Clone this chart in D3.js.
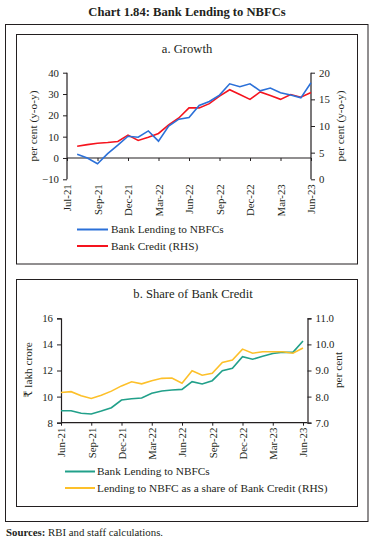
<!DOCTYPE html>
<html>
<head>
<meta charset="utf-8">
<script src="https://cdn.jsdelivr.net/npm/d3@7"></script>
<style>
  body { margin: 0; background: #fff; }
  svg text { font-family: "Liberation Serif", "DejaVu Serif", serif; fill: #231f20; }
</style>
</head>
<body>
<div id="chart"></div>
<script>
// ---- data ----
// months on the shared axis (Jun-21 .. Jun-23)
const months = ["Jun-21","Jul-21","Aug-21","Sep-21","Oct-21","Nov-21","Dec-21","Jan-22","Feb-22","Mar-22","Apr-22","May-22",
  "Jun-22","Jul-22","Aug-22","Sep-22","Oct-22","Nov-22","Dec-22","Jan-23","Feb-23","Mar-23","Apr-23","May-23","Jun-23"];

// panel a: growth, per cent y-o-y (from Jul-21)
const growthMonths = months.slice(1);
const lendingGrowth = [1.7, 0.0, -2.7, 2.0, 6.0, 10.2, 9.7, 12.7, 7.9, 15.0, 18.2, 19.0,
  24.6, 26.5, 29.5, 34.8, 33.4, 34.8, 31.5, 32.8, 30.6, 29.5, 28.2, 35.3];
const creditGrowth = [6.2, 6.5, 6.75, 6.9, 7.1, 8.3, 7.3, 7.9, 8.6, 10.2, 11.5, 13.4,
  13.4, 14.2, 15.6, 16.8, 15.9, 15.0, 16.4, 15.7, 15.0, 15.9, 15.4, 16.3];
const growthTickMonths = ["Jun-21","Sep-21","Dec-21","Mar-22","Jun-22","Sep-22","Dec-22","Mar-23","Jun-23"];
const growthTickLabels = ["Jul-21","Sep-21","Dec-21","Mar-22","Jun-22","Sep-22","Dec-22","Mar-23","Jun-23"];

// panel b: lakh crore and share of bank credit (per cent)
const lendingAmount = [8.92, 8.92, 8.72, 8.67, 8.90, 9.15, 9.74, 9.84, 9.89, 10.25, 10.43, 10.51,
  10.55, 11.14, 10.97, 11.22, 11.98, 12.17, 13.06, 12.86, 13.10, 13.30, 13.40, 13.39, 14.26];
const lendingShare = [8.16, 8.19, 8.03, 7.93, 8.05, 8.21, 8.41, 8.57, 8.49, 8.61, 8.70, 8.71,
  8.51, 8.99, 8.82, 8.89, 9.31, 9.40, 9.82, 9.66, 9.72, 9.72, 9.72, 9.66, 9.86];
const shareTickMonths = ["Jun-21","Sep-21","Dec-21","Mar-22","Jun-22","Sep-22","Dec-22","Mar-23","Jun-23"];

const blue = "#2b70d8", red = "#f5141e", teal = "#21a08a", gold = "#fdc02a";
const tickSize = 10.8, legSize = 11.3, titleSize = 11.3;

const svg = d3.select("#chart").append("svg").attr("width", 373).attr("height", 543);

svg.append("text").attr("x", 187).attr("y", 16).attr("text-anchor", "middle")
  .attr("font-size", 12.6).attr("font-weight", "bold").text("Chart 1.84: Bank Lending to NBFCs");

// frames
svg.append("rect").attr("x", 5.5).attr("y", 24.5).attr("width", 362.5).attr("height", 497)
  .attr("fill", "none").attr("stroke", "#231f20").attr("stroke-width", 1);
svg.append("rect").attr("x", 16.5).attr("y", 34.5).attr("width", 341).attr("height", 229.5)
  .attr("fill", "none").attr("stroke", "#231f20").attr("stroke-width", 1);
svg.append("rect").attr("x", 16.5).attr("y", 279.5).attr("width", 341).attr("height", 227)
  .attr("fill", "none").attr("stroke", "#231f20").attr("stroke-width", 1);

function rotatedLabels(g) {
  g.selectAll("text").attr("transform", "rotate(-90)").attr("text-anchor", "end")
    .attr("x", -5).attr("y", 0).attr("dy", "0.35em").attr("font-size", tickSize);
}

// ---------- panel a ----------
{
  const x = d3.scalePoint().domain(months).range([67, 311]);
  const yL = d3.scaleLinear().domain([-10, 40]).range([179.3, 72.7]);
  const yR = d3.scaleLinear().domain([0, 20]).range([179.3, 72.7]);
  const g = svg.append("g");

  g.append("text").attr("x", 187).attr("y", 53).attr("text-anchor", "middle")
    .attr("font-size", 12.6).text("a. Growth");

  g.append("g").attr("transform", "translate(67,0)")
    .call(d3.axisLeft(yL).tickValues([-10, 0, 10, 20, 30, 40]).tickSize(4).tickPadding(4))
    .call(a => a.select(".domain").attr("d", "M0," + yL(-10) + "V" + yL(40)))
    .call(a => a.selectAll("text").attr("font-size", tickSize));
  g.append("g").attr("transform", "translate(311,0)")
    .call(d3.axisRight(yR).tickValues([0, 5, 10, 15, 20]).tickSize(4).tickPadding(4))
    .call(a => a.select(".domain").attr("d", "M0," + yR(0) + "V" + yR(20)))
    .call(a => a.selectAll("text").attr("font-size", tickSize));

  // category axis along the zero line, labels at the bottom
  g.append("g").attr("transform", "translate(0," + yL(0) + ")")
    .call(d3.axisBottom(x).tickValues(growthTickMonths).tickSize(3).tickFormat(""))
    .call(a => a.select(".domain").attr("d", "M67,0H311"));
  g.append("g").attr("transform", "translate(0," + yL(-10) + ")")
    .call(d3.axisBottom(x).tickValues(growthTickMonths).tickSize(0)
      .tickFormat((d, i) => growthTickLabels[i]))
    .call(a => a.select(".domain").remove())
    .call(rotatedLabels);

  g.selectAll(".tick line").attr("stroke", "#231f20");
  g.selectAll(".domain").attr("stroke", "#231f20").attr("stroke-width", 1.2);

  g.append("text").attr("transform", "translate(37,126) rotate(-90)").attr("text-anchor", "middle")
    .attr("font-size", titleSize).text("per cent (y-o-y)");
  g.append("text").attr("transform", "translate(344,126) rotate(-90)").attr("text-anchor", "middle")
    .attr("font-size", titleSize).text("per cent (y-o-y)");

  const lineL = d3.line().x((d, i) => x(growthMonths[i])).y(d => yL(d));
  const lineR = d3.line().x((d, i) => x(growthMonths[i])).y(d => yR(d));
  g.append("path").datum(creditGrowth).attr("d", lineR).attr("fill", "none").attr("stroke", red).attr("stroke-width", 1.6);
  g.append("path").datum(lendingGrowth).attr("d", lineL).attr("fill", "none").attr("stroke", blue).attr("stroke-width", 1.6);

  const leg = [{ name: "Bank Lending to NBFCs", color: blue }, { name: "Bank Credit (RHS)", color: red }];
  const lg = g.selectAll(".leg").data(leg).enter().append("g")
    .attr("transform", (d, i) => "translate(77," + (229.5 + i * 16.5) + ")");
  lg.append("line").attr("x1", 0).attr("x2", 31).attr("stroke", d => d.color).attr("stroke-width", 2);
  lg.append("text").attr("x", 34).attr("dy", "0.35em").attr("font-size", legSize).text(d => d.name);
}

// ---------- panel b ----------
{
  const x = d3.scalePoint().domain(months).range([61, 303]);
  const yL = d3.scaleLinear().domain([8, 16]).range([422.7, 318.3]);
  const yR = d3.scaleLinear().domain([7, 11]).range([422.7, 318.3]);
  const g = svg.append("g");

  g.append("text").attr("x", 193).attr("y", 297.5).attr("text-anchor", "middle")
    .attr("font-size", 12.6).text("b. Share of Bank Credit");

  g.append("g").attr("transform", "translate(61,0)")
    .call(d3.axisLeft(yL).tickValues([8, 10, 12, 14, 16]).tickSize(4).tickPadding(4))
    .call(a => a.selectAll("text").attr("font-size", tickSize));
  g.append("g").attr("transform", "translate(307.5,0)")
    .call(d3.axisRight(yR).tickValues([7, 8, 9, 10, 11]).tickSize(4).tickPadding(4)
      .tickFormat(d3.format(".1f")))
    .call(a => a.selectAll("text").attr("font-size", tickSize));

  g.append("g").attr("transform", "translate(0," + yL(8) + ")")
    .call(d3.axisBottom(x).tickValues(shareTickMonths).tickSize(3).tickPadding(3))
    .call(a => a.select(".domain").attr("d", "M61,0H307.5"))
    .call(rotatedLabels);

  g.selectAll(".tick line").attr("stroke", "#231f20");
  g.selectAll(".domain").attr("stroke", "#231f20").attr("stroke-width", 1.2);

  g.append("text").attr("transform", "translate(32,370) rotate(-90)").attr("text-anchor", "middle")
    .attr("font-size", titleSize).text("₹ lakh crore");
  g.append("text").attr("transform", "translate(342,370) rotate(-90)").attr("text-anchor", "middle")
    .attr("font-size", titleSize).text("per cent");

  const lineL = d3.line().x((d, i) => x(months[i])).y(d => yL(d));
  const lineR = d3.line().x((d, i) => x(months[i])).y(d => yR(d));
  g.append("path").datum(lendingAmount).attr("d", lineL).attr("fill", "none").attr("stroke", teal).attr("stroke-width", 1.6);
  g.append("path").datum(lendingShare).attr("d", lineR).attr("fill", "none").attr("stroke", gold).attr("stroke-width", 1.6);

  const leg = [{ name: "Bank Lending to NBFCs", color: teal },
    { name: "Lending to NBFC as a share of Bank Credit (RHS)", color: gold }];
  const lg = g.selectAll(".leg").data(leg).enter().append("g")
    .attr("transform", (d, i) => "translate(65," + (471.5 + i * 16.5) + ")");
  lg.append("line").attr("x1", 0).attr("x2", 30).attr("stroke", d => d.color).attr("stroke-width", 2);
  lg.append("text").attr("x", 32).attr("dy", "0.35em").attr("font-size", legSize).text(d => d.name);
}

// source note
const src = svg.append("text").attr("x", 6).attr("y", 535.5).attr("font-size", 10.8);
src.append("tspan").attr("font-weight", "bold").text("Sources:");
src.append("tspan").text(" RBI and staff calculations.");
</script>
</body>
</html>
